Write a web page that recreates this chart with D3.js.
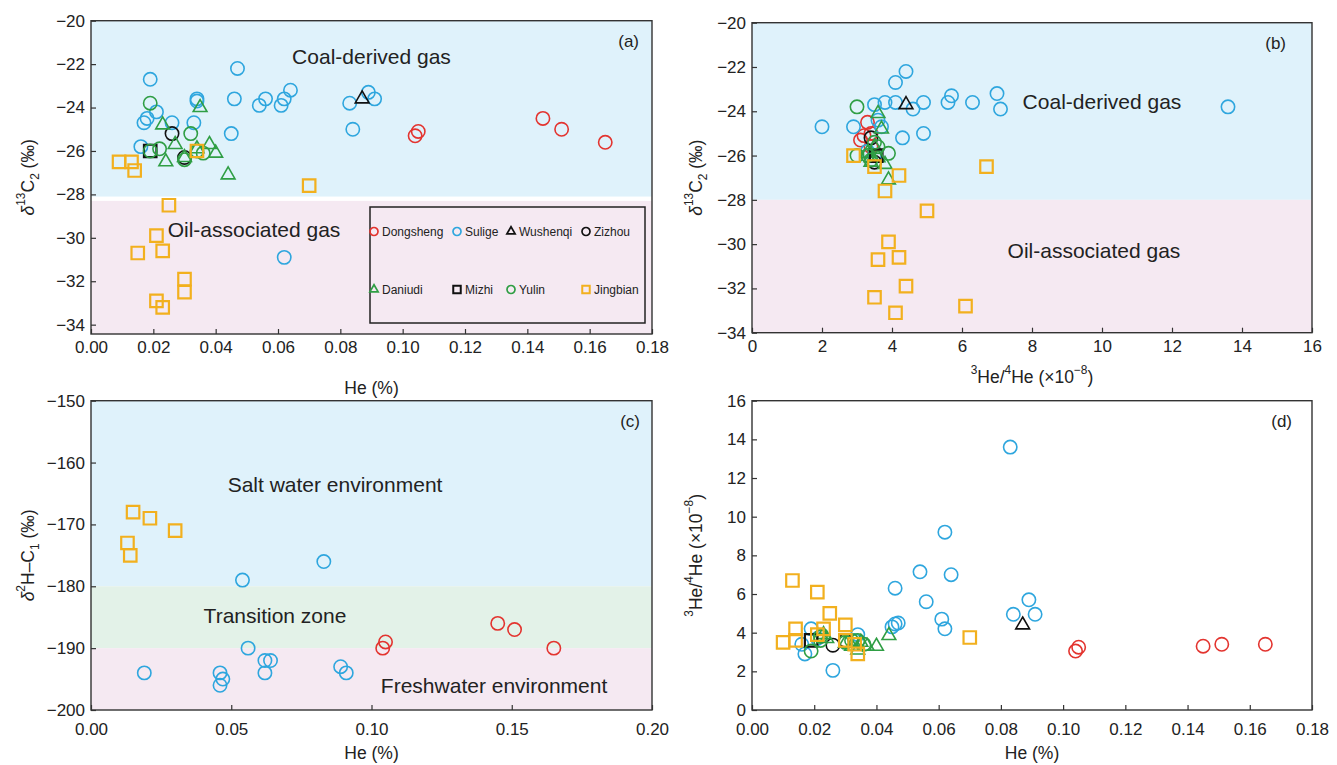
<!DOCTYPE html>
<html>
<head>
<meta charset="utf-8">
<script src="https://cdn.jsdelivr.net/npm/d3@7"></script>
<style>
    body { margin: 0; background: #fff; }
    svg text { font-family: "Liberation Sans", Arial, Helvetica, sans-serif; fill: #222; }
</style>
</head>
<body>
<div id="chart"></div>
<script>
// ---- groups (legend order) ----
const groups = ["Dongsheng", "Sulige", "Wushenqi", "Zizhou", "Daniudi", "Mizhi", "Yulin", "Jingbian"];
const groupColors = ["#e3342f", "#2ea6de", "#111111", "#111111", "#2f9e44", "#111111", "#2f9e44", "#f2b01e"];
const groupShapes = ["circle", "circle", "triangle", "circle", "triangle", "square", "circle", "square"];

// ---- tick labels ----
const heTicks = [0, 0.02, 0.04, 0.06, 0.08, 0.10, 0.12, 0.14, 0.16, 0.18];
const heTicksC = [0, 0.05, 0.10, 0.15, 0.20];
const d13cTicks = [-20, -22, -24, -26, -28, -30, -32, -34];
const ratioTicksB = [0, 2, 4, 6, 8, 10, 12, 14, 16];
const d2hTicks = [-150, -160, -170, -180, -190, -200];
const ratioTicksD = [0, 2, 4, 6, 8, 10, 12, 14, 16];

// ---- (a) He (%) vs d13C2 ----
const dongshengA = [[0.105, -25.1], [0.104, -25.3], [0.145, -24.5], [0.151, -25.0], [0.165, -25.6]];
const suligeA = [[0.019, -22.7], [0.047, -22.2], [0.017, -24.7], [0.018, -24.5], [0.021, -24.2], [0.026, -24.7],
    [0.033, -24.7], [0.034, -23.6], [0.034, -23.7], [0.046, -23.6], [0.045, -25.2], [0.054, -23.9], [0.056, -23.6],
    [0.061, -23.9], [0.062, -23.6], [0.064, -23.2], [0.083, -23.8], [0.089, -23.3], [0.091, -23.6], [0.084, -25.0],
    [0.016, -25.8], [0.062, -30.9]];
const wushenqiA = [[0.087, -23.6]];
const zizhouA = [[0.026, -25.2], [0.030, -26.3]];
const daniudiA = [[0.023, -24.8], [0.035, -24.0], [0.027, -25.7], [0.024, -26.5], [0.030, -26.3], [0.038, -25.7],
    [0.040, -26.1], [0.034, -25.9], [0.044, -27.1]];
const mizhiA = [[0.019, -26.0]];
const yulinA = [[0.019, -23.8], [0.022, -25.9], [0.032, -25.2], [0.030, -26.4], [0.036, -26.1], [0.034, -26.0], [0.019, -26.0]];
const jingbianA = [[0.009, -26.5], [0.013, -26.5], [0.014, -26.9], [0.034, -26.0], [0.070, -27.6], [0.025, -28.5],
    [0.021, -29.9], [0.023, -30.6], [0.015, -30.7], [0.030, -31.9], [0.030, -32.5], [0.021, -32.9], [0.023, -33.2]];

// ---- (b) 3He/4He vs d13C2 ----
const dongshengB = [[3.2, -25.1], [3.1, -25.3], [3.3, -24.5], [3.4, -25.0], [3.4, -25.6]];
const suligeB = [[2.0, -24.7], [2.9, -24.7], [3.5, -23.7], [3.8, -23.6], [4.1, -23.6], [4.1, -22.7], [4.4, -22.2],
    [4.6, -23.9], [4.9, -23.6], [5.6, -23.6], [5.7, -23.3], [6.3, -23.6], [7.0, -23.2], [7.1, -23.9], [13.6, -23.8],
    [4.3, -25.2], [4.9, -25.0], [3.7, -24.7], [3.6, -24.4], [3.3, -25.8], [3.5, -26.0]];
const wushenqiB = [[4.4, -23.7]];
const zizhouB = [[3.4, -25.2], [3.5, -26.3]];
const daniudiB = [[3.6, -24.1], [3.7, -24.8], [3.8, -26.4], [3.9, -27.1], [3.3, -25.9], [3.4, -26.1], [3.5, -25.6],
    [3.6, -26.1], [3.4, -26.3]];
const mizhiB = [[3.55, -26.0]];
const yulinB = [[3.0, -23.8], [3.0, -26.0], [3.9, -25.9], [3.5, -25.4], [3.3, -26.0], [3.6, -25.6], [3.4, -26.2]];
const jingbianB = [[2.9, -26.0], [3.5, -26.5], [4.2, -26.9], [3.8, -27.6], [6.7, -26.5], [5.0, -28.5], [3.9, -29.9],
    [3.6, -30.7], [4.2, -30.6], [4.4, -31.9], [3.5, -32.4], [4.1, -33.1], [6.1, -32.8]];

// ---- (c) He (%) vs d2H-C1 ----
const dongshengC = [[0.105, -189], [0.104, -190], [0.145, -186], [0.151, -187], [0.165, -190]];
const suligeC = [[0.083, -176], [0.054, -179], [0.056, -190], [0.019, -194], [0.046, -194], [0.047, -195], [0.046, -196],
    [0.062, -192], [0.064, -192], [0.062, -194], [0.089, -193], [0.091, -194]];
const jingbianC = [[0.015, -168], [0.021, -169], [0.030, -171], [0.013, -173], [0.014, -175]];

// ---- (d) He (%) vs 3He/4He ----
const dongshengD = [[0.104, 3.05], [0.105, 3.25], [0.145, 3.3], [0.151, 3.4], [0.165, 3.4]];
const suligeD = [[0.083, 13.6], [0.062, 9.2], [0.054, 7.15], [0.064, 7.0], [0.046, 6.3], [0.056, 5.6], [0.089, 5.7],
    [0.084, 4.95], [0.091, 4.95], [0.061, 4.7], [0.062, 4.2], [0.045, 4.3], [0.046, 4.45], [0.047, 4.5], [0.026, 2.05],
    [0.019, 4.2], [0.016, 3.4], [0.017, 2.9], [0.034, 3.9], [0.033, 3.6], [0.021, 3.7]];
const wushenqiD = [[0.087, 4.4]];
const zizhouD = [[0.026, 3.35], [0.030, 3.6]];
const daniudiD = [[0.044, 3.85], [0.040, 3.3], [0.037, 3.3], [0.034, 3.1], [0.023, 3.9], [0.030, 3.45], [0.032, 3.3],
    [0.024, 3.7], [0.035, 3.5]];
const mizhiD = [[0.019, 3.6]];
const yulinD = [[0.019, 3.05], [0.022, 3.8], [0.036, 3.4], [0.032, 3.6], [0.030, 3.5], [0.034, 3.6], [0.022, 3.6]];
const jingbianD = [[0.013, 6.7], [0.021, 6.1], [0.025, 5.0], [0.030, 4.4], [0.014, 4.2], [0.010, 3.5], [0.014, 3.6],
    [0.023, 4.2], [0.021, 3.9], [0.030, 3.6], [0.034, 2.9], [0.070, 3.75], [0.033, 3.4]];

// ---- label pieces: [text, style] ----
const heLabel = [["He (%)", ""]];
const d13cLabel = [["δ", "it"], ["13", "sup"], ["C", ""], ["2", "sub"], [" (‰)", ""]];
const d2hLabel = [["δ", "it"], ["2", "sup"], ["H–C", ""], ["1", "sub"], [" (‰)", ""]];
const ratioLabel = [["3", "sup"], ["He/", ""], ["4", "sup"], ["He (×10", ""], ["−8", "sup"], [")", ""]];

const BLUE = "#dff2fb", PINK = "#f5e9f2", GREEN = "#e3f2e8";

const svg = d3.select("#chart").append("svg")
    .attr("width", 1337)
    .attr("height", 765);

svg.append("rect").attr("width", 1337).attr("height", 765).attr("fill", "#fff");

function richText(sel, parts) {
    parts.forEach(p => {
        let t = sel.append("tspan").text(p[0]);
        if (p[1] === "it") t.attr("font-style", "italic");
        if (p[1] === "sup") t.attr("font-size", "68%").attr("baseline-shift", "super");
        if (p[1] === "sub") t.attr("font-size", "68%").attr("baseline-shift", "sub");
    });
}

function markerPath(shape, scale) {
    let s = scale || 1;
    if (shape === "circle") return d3.symbol().type(d3.symbolCircle).size(140 * s * s)();
    if (shape === "square") return d3.symbol().type(d3.symbolSquare).size(156 * s * s)();
    return d3.symbol().type(d3.symbolTriangle).size(82 * s * s)();
}

class ScatterVis {

    constructor(_svg, _config) {
        this.svg = _svg;
        this.config = _config;
        this.initVis();
    }

    initVis() {
        let vis = this;
        let c = vis.config;

        vis.x = d3.scaleLinear().domain(c.xDomain).range([c.left, c.right]);
        vis.y = d3.scaleLinear().domain(c.yDomain).range([c.bottom, c.top]);

        vis.g = vis.svg.append("g");

        // background zones
        vis.g.selectAll("rect.band")
            .data(c.bands)
            .join("rect")
            .attr("class", "band")
            .attr("x", c.left)
            .attr("width", c.right - c.left)
            .attr("y", d => vis.y(d.to))
            .attr("height", d => vis.y(d.from) - vis.y(d.to))
            .attr("fill", d => d.color);

        // zone names
        vis.g.selectAll("text.zone")
            .data(c.zones)
            .join("text")
            .attr("class", "zone")
            .attr("x", d => vis.x(d.x))
            .attr("y", d => vis.y(d.y))
            .attr("text-anchor", "middle")
            .attr("dominant-baseline", "central")
            .attr("font-size", 21)
            .text(d => d.text);

        vis.xAxis = d3.axisBottom(vis.x)
            .tickValues(c.xTicks)
            .tickFormat(c.xFormat)
            .tickSizeInner(-5)
            .tickSizeOuter(0)
            .tickPadding(c.xPad);

        vis.yAxis = d3.axisLeft(vis.y)
            .tickValues(c.yTicks)
            .tickFormat(d3.format("d"))
            .tickSizeInner(-5)
            .tickSizeOuter(0)
            .tickPadding(6);

        vis.g.append("g")
            .attr("transform", "translate(0," + c.bottom + ")")
            .call(vis.xAxis)
            .call(g => g.select(".domain").remove())
            .call(g => g.selectAll("text").attr("font-size", 17).attr("fill", "#222"))
            .call(g => g.selectAll("line").attr("stroke", "#333").attr("stroke-width", 1.2));

        vis.g.append("g")
            .attr("transform", "translate(" + c.left + ",0)")
            .call(vis.yAxis)
            .call(g => g.select(".domain").remove())
            .call(g => g.selectAll("text").attr("font-size", 17).attr("fill", "#222"))
            .call(g => g.selectAll("line").attr("stroke", "#333").attr("stroke-width", 1.2));

        // frame
        vis.g.append("rect")
            .attr("x", c.left)
            .attr("y", c.top)
            .attr("width", c.right - c.left)
            .attr("height", c.bottom - c.top)
            .attr("fill", "none")
            .attr("stroke", "#333")
            .attr("stroke-width", 1.4);

        // axis titles
        vis.g.append("text")
            .attr("x", (c.left + c.right) / 2)
            .attr("y", c.bottom + c.xLabelOffset)
            .attr("text-anchor", "middle")
            .attr("dominant-baseline", "central")
            .attr("font-size", 17.5)
            .call(richText, c.xLabel);

        vis.g.append("text")
            .attr("transform", "translate(" + c.yLabelX + "," + (c.top + c.bottom) / 2 + ") rotate(-90)")
            .attr("text-anchor", "middle")
            .attr("dominant-baseline", "central")
            .attr("font-size", 17.5)
            .call(richText, c.yLabel);

        // panel tag
        vis.g.append("text")
            .attr("x", c.right - c.tagOffset)
            .attr("y", c.top + 21)
            .attr("text-anchor", "end")
            .attr("dominant-baseline", "central")
            .attr("font-size", 17)
            .text(c.tag);

        vis.wrangleData();
    }

    wrangleData() {
        let vis = this;
        vis.points = [];
        vis.config.series.forEach(s => {
            let gi = groups.indexOf(s[0]);
            s[1].forEach(p => vis.points.push({x: p[0], y: p[1], color: groupColors[gi], shape: groupShapes[gi]}));
        });
        vis.updateVis();
    }

    updateVis() {
        let vis = this;

        vis.g.append("g")
            .attr("fill", "none")
            .selectAll("path")
            .data(vis.points)
            .join("path")
            .attr("d", d => markerPath(d.shape))
            .attr("transform", d => "translate(" + vis.x(d.x) + "," + vis.y(d.y) + ")")
            .attr("stroke", d => d.color)
            .attr("stroke-width", d => d.shape === "square" ? 2.2 : 1.6);

        if (vis.config.legend) vis.drawLegend(vis.config.legend);
    }

    drawLegend(box) {
        let vis = this;
        let lg = vis.g.append("g");

        lg.append("rect")
            .attr("x", box.x).attr("y", box.y)
            .attr("width", box.w).attr("height", box.h)
            .attr("fill", "none")
            .attr("stroke", "#222")
            .attr("stroke-width", 1.5);

        let colX = [4, 87, 141, 216];
        let rowY = [24.5, 82.5];

        let item = lg.selectAll("g.item")
            .data(groups)
            .join("g")
            .attr("class", "item")
            .attr("transform", (d, i) => "translate(" + (box.x + colX[i % 4]) + "," + (box.y + rowY[Math.floor(i / 4)]) + ")");

        item.append("path")
            .attr("d", (d, i) => markerPath(groupShapes[i], 0.6))
            .attr("fill", "none")
            .attr("stroke", (d, i) => groupColors[i])
            .attr("stroke-width", (d, i) => groupShapes[i] === "square" ? 2 : 1.7);

        item.append("text")
            .attr("x", 8)
            .attr("dominant-baseline", "central")
            .attr("font-size", 12)
            .text(d => d);
    }
}

const panelA = new ScatterVis(svg, {
    tag: "(a)", tagOffset: 13,
    left: 91, right: 652, top: 20.7, bottom: 334,
    xDomain: [0, 0.18], yDomain: [-34.43, -20],
    xTicks: heTicks, yTicks: d13cTicks, xFormat: d3.format(".2f"), xPad: 7,
    xLabel: heLabel, xLabelOffset: 54, yLabel: d13cLabel, yLabelX: 28,
    bands: [{from: -28.1, to: -20, color: BLUE}, {from: -34.43, to: -28.3, color: PINK}],
    zones: [{text: "Coal-derived gas", x: 0.090, y: -21.67}, {text: "Oil-associated gas", x: 0.0523, y: -29.6}],
    series: [["Dongsheng", dongshengA], ["Sulige", suligeA], ["Wushenqi", wushenqiA], ["Zizhou", zizhouA],
        ["Daniudi", daniudiA], ["Mizhi", mizhiA], ["Yulin", yulinA], ["Jingbian", jingbianA]],
    legend: {x: 370, y: 207, w: 275, h: 116}
});

const panelB = new ScatterVis(svg, {
    tag: "(b)", tagOffset: 26,
    left: 752, right: 1312, top: 22.7, bottom: 332.7,
    xDomain: [0, 16], yDomain: [-34, -20],
    xTicks: ratioTicksB, yTicks: d13cTicks, xFormat: d3.format("d"), xPad: 7,
    xLabel: ratioLabel, xLabelOffset: 44, yLabel: d13cLabel, yLabelX: 696,
    bands: [{from: -28, to: -20, color: BLUE}, {from: -34, to: -28, color: PINK}],
    zones: [{text: "Coal-derived gas", x: 10.0, y: -23.58}, {text: "Oil-associated gas", x: 9.77, y: -30.3}],
    series: [["Dongsheng", dongshengB], ["Sulige", suligeB], ["Wushenqi", wushenqiB], ["Zizhou", zizhouB],
        ["Daniudi", daniudiB], ["Mizhi", mizhiB], ["Yulin", yulinB], ["Jingbian", jingbianB]]
});

const panelC = new ScatterVis(svg, {
    tag: "(c)", tagOffset: 12,
    left: 91, right: 652, top: 400.7, bottom: 710,
    xDomain: [0, 0.20], yDomain: [-200, -150],
    xTicks: heTicksC, yTicks: d2hTicks, xFormat: d3.format(".2f"), xPad: 12.5,
    xLabel: heLabel, xLabelOffset: 43, yLabel: d2hLabel, yLabelX: 28,
    bands: [{from: -180, to: -150, color: BLUE}, {from: -190, to: -180, color: GREEN}, {from: -200, to: -190, color: PINK}],
    zones: [{text: "Salt water environment", x: 0.087, y: -163.6}, {text: "Transition zone", x: 0.0656, y: -184.8},
        {text: "Freshwater environment", x: 0.1437, y: -196.1}],
    series: [["Dongsheng", dongshengC], ["Sulige", suligeC], ["Jingbian", jingbianC]]
});

const panelD = new ScatterVis(svg, {
    tag: "(d)", tagOffset: 20,
    left: 752, right: 1312, top: 400.7, bottom: 710,
    xDomain: [0, 0.18], yDomain: [0, 16],
    xTicks: heTicks, yTicks: ratioTicksD, xFormat: d3.format(".2f"), xPad: 12.5,
    xLabel: heLabel, xLabelOffset: 43, yLabel: ratioLabel, yLabelX: 696,
    bands: [],
    zones: [],
    series: [["Dongsheng", dongshengD], ["Sulige", suligeD], ["Wushenqi", wushenqiD], ["Zizhou", zizhouD],
        ["Daniudi", daniudiD], ["Mizhi", mizhiD], ["Yulin", yulinD], ["Jingbian", jingbianD]]
});
</script>
</body>
</html>
